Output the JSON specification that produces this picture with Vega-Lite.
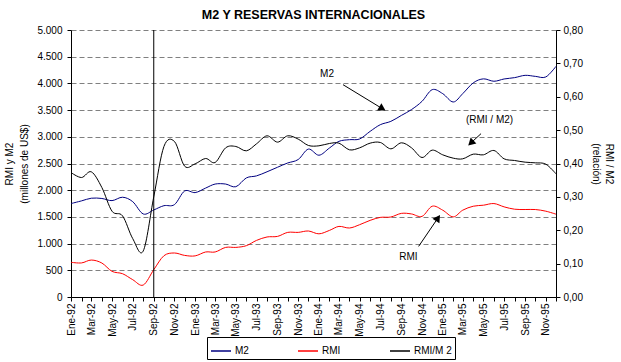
{
  "$schema": "https://vega.github.io/schema/vega-lite/v6.json",
  "width": 485,
  "height": 267,
  "autosize": {"type": "none"},
  "padding": {"left": 71, "top": 30, "right": 65, "bottom": 65},
  "background": "white",
  "config": {
    "font": "Liberation Sans",
    "view": {"stroke": null},
    "axis": {
      "labelFont": "Liberation Sans",
      "labelFontSize": 10,
      "labelColor": "black",
      "titleFont": "Liberation Sans",
      "titleFontSize": 10,
      "titleFontWeight": "normal",
      "titleColor": "black",
      "domainColor": "black",
      "tickColor": "black"
    }
  },
  "title": {
    "text": "M2 Y RESERVAS INTERNACIONALES",
    "font": "Liberation Sans",
    "fontSize": 12.5,
    "fontWeight": "bold",
    "color": "black",
    "anchor": "middle",
    "frame": "group",
    "offset": 4
  },
  "datasets": {
    "series": [
      {"fecha": "1992-01-01", "M2": 1750, "RMI": 650, "ratio": 0.373},
      {"fecha": "1992-02-01", "M2": 1800, "RMI": 638, "ratio": 0.358},
      {"fecha": "1992-03-01", "M2": 1850, "RMI": 692, "ratio": 0.375},
      {"fecha": "1992-04-01", "M2": 1845, "RMI": 636, "ratio": 0.328},
      {"fecha": "1992-05-01", "M2": 1805, "RMI": 480, "ratio": 0.257},
      {"fecha": "1992-06-01", "M2": 1868, "RMI": 436, "ratio": 0.243},
      {"fecha": "1992-07-01", "M2": 1785, "RMI": 324, "ratio": 0.175},
      {"fecha": "1992-08-01", "M2": 1555, "RMI": 224, "ratio": 0.138},
      {"fecha": "1992-09-01", "M2": 1630, "RMI": 511, "ratio": 0.300},
      {"fecha": "1992-10-01", "M2": 1710, "RMI": 773, "ratio": 0.451},
      {"fecha": "1992-11-01", "M2": 1730, "RMI": 824, "ratio": 0.466},
      {"fecha": "1992-12-01", "M2": 1985, "RMI": 779, "ratio": 0.392},
      {"fecha": "1993-01-01", "M2": 1955, "RMI": 770, "ratio": 0.399},
      {"fecha": "1993-02-01", "M2": 2040, "RMI": 843, "ratio": 0.415},
      {"fecha": "1993-03-01", "M2": 2115, "RMI": 843, "ratio": 0.403},
      {"fecha": "1993-04-01", "M2": 2115, "RMI": 929, "ratio": 0.447},
      {"fecha": "1993-05-01", "M2": 2065, "RMI": 929, "ratio": 0.451},
      {"fecha": "1993-06-01", "M2": 2230, "RMI": 961, "ratio": 0.438},
      {"fecha": "1993-07-01", "M2": 2268, "RMI": 1060, "ratio": 0.459},
      {"fecha": "1993-08-01", "M2": 2345, "RMI": 1124, "ratio": 0.483},
      {"fecha": "1993-09-01", "M2": 2430, "RMI": 1135, "ratio": 0.464},
      {"fecha": "1993-10-01", "M2": 2510, "RMI": 1210, "ratio": 0.483},
      {"fecha": "1993-11-01", "M2": 2575, "RMI": 1210, "ratio": 0.473},
      {"fecha": "1993-12-01", "M2": 2770, "RMI": 1236, "ratio": 0.454},
      {"fecha": "1994-01-01", "M2": 2655, "RMI": 1183, "ratio": 0.453},
      {"fecha": "1994-02-01", "M2": 2790, "RMI": 1247, "ratio": 0.460},
      {"fecha": "1994-03-01", "M2": 2915, "RMI": 1322, "ratio": 0.461},
      {"fecha": "1994-04-01", "M2": 2946, "RMI": 1292, "ratio": 0.441},
      {"fecha": "1994-05-01", "M2": 2959, "RMI": 1354, "ratio": 0.447},
      {"fecha": "1994-06-01", "M2": 3102, "RMI": 1435, "ratio": 0.461},
      {"fecha": "1994-07-01", "M2": 3227, "RMI": 1491, "ratio": 0.463},
      {"fecha": "1994-08-01", "M2": 3289, "RMI": 1498, "ratio": 0.444},
      {"fecha": "1994-09-01", "M2": 3400, "RMI": 1566, "ratio": 0.462},
      {"fecha": "1994-10-01", "M2": 3510, "RMI": 1555, "ratio": 0.447},
      {"fecha": "1994-11-01", "M2": 3664, "RMI": 1510, "ratio": 0.418},
      {"fecha": "1994-12-01", "M2": 3883, "RMI": 1700, "ratio": 0.440},
      {"fecha": "1995-01-01", "M2": 3808, "RMI": 1626, "ratio": 0.426},
      {"fecha": "1995-02-01", "M2": 3652, "RMI": 1500, "ratio": 0.416},
      {"fecha": "1995-03-01", "M2": 3808, "RMI": 1626, "ratio": 0.414},
      {"fecha": "1995-04-01", "M2": 4010, "RMI": 1700, "ratio": 0.428},
      {"fecha": "1995-05-01", "M2": 4085, "RMI": 1719, "ratio": 0.426},
      {"fecha": "1995-06-01", "M2": 4040, "RMI": 1750, "ratio": 0.439},
      {"fecha": "1995-07-01", "M2": 4083, "RMI": 1688, "ratio": 0.414},
      {"fecha": "1995-08-01", "M2": 4108, "RMI": 1644, "ratio": 0.409},
      {"fecha": "1995-09-01", "M2": 4151, "RMI": 1638, "ratio": 0.404},
      {"fecha": "1995-10-01", "M2": 4132, "RMI": 1638, "ratio": 0.402},
      {"fecha": "1995-11-01", "M2": 4121, "RMI": 1607, "ratio": 0.398},
      {"fecha": "1995-12-01", "M2": 4320, "RMI": 1551, "ratio": 0.369}
    ],
    "etiquetas": [
      {"texto": "M2", "fecha": "1994-01-25", "valor": 4182},
      {"texto": "(RMI / M2)", "fecha": "1995-05-19", "valor": 3321},
      {"texto": "RMI", "fecha": "1994-09-22", "valor": 742}
    ],
    "flechas": [
      {"etiqueta": "M2", "fecha1": "1994-03-13", "valor1": 3976, "fecha2": "1994-07-07", "valor2": 3527},
      {"etiqueta": "RMI/M2", "fecha1": "1995-04-24", "valor1": 3059, "fecha2": "1995-03-25", "valor2": 2884},
      {"etiqueta": "RMI", "fecha1": "1994-10-22", "valor1": 948, "fecha2": "1994-12-18", "valor2": 1480}
    ],
    "corte": [
      {"fecha": "1992-09-01"}
    ]
  },
  "layer": [
    {
      "data": {"name": "series"},
      "transform": [{"fold": ["M2", "RMI"], "as": ["serie", "valor"]}],
      "mark": {"type": "line", "interpolate": "cardinal", "strokeWidth": 1},
      "encoding": {
        "x": {
          "field": "fecha",
          "type": "temporal",
          "scale": {
            "type": "utc",
            "nice": false,
            "domain": [
              {"year": 1992, "month": 1, "date": 1, "utc": true},
              {"year": 1995, "month": 12, "date": 1, "utc": true}
            ]
          },
          "axis": {
            "title": null,
            "grid": false,
            "tickCount": {"interval": "month", "step": 1},
            "labelAngle": -90,
            "labelExpr": "utcmonth(datum.value) % 2 == 0 ? ['Ene','Feb','Mar','Abr','May','Jun','Jul','Ago','Sep','Oct','Nov','Dic'][utcmonth(datum.value)] + '-' + utcFormat(datum.value, '%y') : ''",
            "labelOverlap": false,
            "labelFlush": false,
            "labelBound": false,
            "tickSize": 4,
            "labelPadding": 2
          }
        },
        "y": {
          "field": "valor",
          "type": "quantitative",
          "scale": {"domain": [0, 5000], "nice": false},
          "axis": {
            "orient": "left",
            "title": ["RMI y M2", "(millones de US$)"],
            "titleLineHeight": 15,
            "titlePadding": 7,
            "values": [0, 500, 1000, 1500, 2000, 2500, 3000, 3500, 4000, 4500, 5000],
            "labelOverlap": false,
            "labelExpr": "replace(format(datum.value, ','), ',', '.')",
            "grid": true,
            "gridDash": [5, 3],
            "gridColor": "#808080",
            "gridWidth": 1,
            "tickSize": 4,
            "labelPadding": 5
          }
        },
        "color": {
          "field": "serie",
          "type": "nominal",
          "scale": {
            "domain": ["M2", "RMI", "RMI/M 2"],
            "range": ["#000080", "#ff0000", "#000000"]
          },
          "legend": {
            "orient": "none",
            "legendX": 136,
            "legendY": 307,
            "direction": "horizontal",
            "title": null,
            "symbolType": "stroke",
            "symbolSize": 400,
            "symbolStrokeWidth": 1.5,
            "labelFont": "Liberation Sans",
            "labelFontSize": 10,
            "labelColor": "black",
            "labelOffset": 3,
            "strokeColor": "black",
            "fillColor": "white",
            "padding": 3,
            "columnPadding": 46
          }
        }
      }
    },
    {
      "data": {"name": "corte"},
      "mark": {"type": "rule", "color": "black", "strokeWidth": 1},
      "encoding": {
        "x": {"field": "fecha", "type": "temporal"}
      }
    },
    {
      "data": {"name": "etiquetas"},
      "mark": {"type": "text", "fontSize": 10, "font": "Liberation Sans", "color": "black", "align": "center", "baseline": "middle"},
      "encoding": {
        "x": {"field": "fecha", "type": "temporal"},
        "y": {"field": "valor", "type": "quantitative", "scale": {"domain": [0, 5000], "nice": false}, "axis": null},
        "text": {"field": "texto"}
      }
    },
    {
      "data": {"name": "flechas"},
      "mark": {"type": "rule", "color": "black", "strokeWidth": 1},
      "encoding": {
        "x": {"field": "fecha1", "type": "temporal"},
        "x2": {"field": "fecha2"},
        "y": {"field": "valor1", "type": "quantitative", "scale": {"domain": [0, 5000], "nice": false}, "axis": null},
        "y2": {"field": "valor2"}
      }
    },
    {
      "data": {"name": "flechas"},
      "transform": [{"filter": "datum.etiqueta == 'M2'"}],
      "mark": {"type": "point", "shape": "triangle-up", "filled": true, "color": "black", "size": 70, "opacity": 1, "angle": 121},
      "encoding": {
        "x": {"field": "fecha2", "type": "temporal"},
        "y": {"field": "valor2", "type": "quantitative", "scale": {"domain": [0, 5000], "nice": false}, "axis": null}
      }
    },
    {
      "data": {"name": "flechas"},
      "transform": [{"filter": "datum.etiqueta == 'RMI/M2'"}],
      "mark": {"type": "point", "shape": "triangle-up", "filled": true, "color": "black", "size": 70, "opacity": 1, "angle": 227},
      "encoding": {
        "x": {"field": "fecha2", "type": "temporal"},
        "y": {"field": "valor2", "type": "quantitative", "scale": {"domain": [0, 5000], "nice": false}, "axis": null}
      }
    },
    {
      "data": {"name": "flechas"},
      "transform": [{"filter": "datum.etiqueta == 'RMI'"}],
      "mark": {"type": "point", "shape": "triangle-up", "filled": true, "color": "black", "size": 70, "opacity": 1, "angle": 34},
      "encoding": {
        "x": {"field": "fecha2", "type": "temporal"},
        "y": {"field": "valor2", "type": "quantitative", "scale": {"domain": [0, 5000], "nice": false}, "axis": null}
      }
    },
    {
      "data": {"name": "series"},
      "mark": {"type": "line", "interpolate": "cardinal", "strokeWidth": 1},
      "encoding": {
        "x": {"field": "fecha", "type": "temporal"},
        "y": {
          "field": "ratio",
          "type": "quantitative",
          "scale": {"domain": [0, 0.8], "nice": false},
          "axis": {
            "orient": "right",
            "title": ["RMI / M2", "(relación)"],
            "titleLineHeight": 13,
            "titlePadding": 8,
            "values": [0, 0.1, 0.2, 0.3, 0.4, 0.5, 0.6, 0.7, 0.8],
            "labelOverlap": false,
            "labelExpr": "replace(format(datum.value, '.2f'), '.', ',')",
            "grid": false,
            "tickSize": 4,
            "labelPadding": 3
          }
        },
        "color": {"datum": "RMI/M 2"}
      }
    }
  ],
  "resolve": {"scale": {"y": "independent"}}
}
